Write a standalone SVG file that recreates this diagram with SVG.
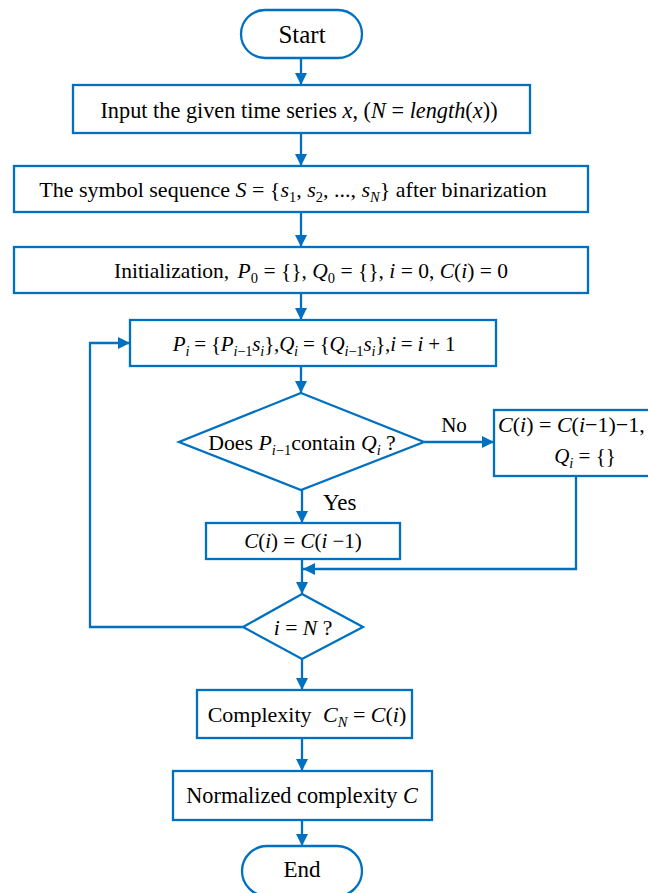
<svg xmlns="http://www.w3.org/2000/svg" width="648" height="893" viewBox="0 0 648 893">
<style>
.box{fill:#fff;stroke:#0070C0;stroke-width:2.3}
.ln{fill:none;stroke:#0070C0;stroke-width:2.3}
text{font-family:"Liberation Serif","Times New Roman",serif;font-size:22px;fill:#000}
.c{text-anchor:middle}
.i{font-style:italic}
.s{font-size:14.5px}
</style>
<defs>
<marker id="ah" markerUnits="userSpaceOnUse" markerWidth="12" markerHeight="12" refX="12" refY="6" orient="auto">
<path d="M0,0 L12,6 L0,12 z" fill="#0070C0"/>
</marker>
</defs>
<rect width="648" height="893" fill="#fff"/>
<g id="connectors">
<line class="ln" x1="301" y1="58" x2="301" y2="85" marker-end="url(#ah)"/>
<line class="ln" x1="301" y1="133" x2="301" y2="166" marker-end="url(#ah)"/>
<line class="ln" x1="301" y1="212" x2="301" y2="247" marker-end="url(#ah)"/>
<line class="ln" x1="301" y1="293" x2="301" y2="320" marker-end="url(#ah)"/>
<line class="ln" x1="301" y1="366" x2="301" y2="393" marker-end="url(#ah)"/>
<line class="ln" x1="424" y1="442" x2="494" y2="442" marker-end="url(#ah)"/>
<line class="ln" x1="302" y1="490" x2="302" y2="523" marker-end="url(#ah)"/>
<line class="ln" x1="302" y1="559" x2="302" y2="594" marker-end="url(#ah)"/>
<polyline class="ln" points="576,476 576,569 303,569" marker-end="url(#ah)"/>
<polyline class="ln" points="243,627 90,627 90,343 130,343" marker-end="url(#ah)"/>
<line class="ln" x1="302" y1="659" x2="302" y2="690" marker-end="url(#ah)"/>
<line class="ln" x1="302" y1="738" x2="302" y2="771" marker-end="url(#ah)"/>
<line class="ln" x1="302" y1="820" x2="302" y2="846" marker-end="url(#ah)"/>
<text x="454" y="432" class="c" style="font-size:21px">No</text>
<text x="323" y="510" style="font-size:23px">Yes</text>
</g>
<g id="start">
<rect class="box" x="241" y="10" width="121" height="48" rx="24"/>
<text x="302" y="43" class="c" style="font-size:25px">Start</text>
</g>
<g id="input">
<rect class="box" x="73" y="85" width="457" height="48"/>
<text x="299" y="118" class="c" style="font-size:22.3px">Input the given time series <tspan class="i">x</tspan>, (<tspan class="i">N</tspan> = <tspan class="i">length</tspan>(<tspan class="i">x</tspan>))</text>
</g>
<g id="symbol">
<rect class="box" x="14" y="166" width="574" height="46"/>
<text x="293" y="197" class="c">The symbol sequence <tspan class="i">S</tspan> = {<tspan class="i">s</tspan><tspan class="s" dy="5">1</tspan><tspan dy="-5">, </tspan><tspan class="i">s</tspan><tspan class="s" dy="5">2</tspan><tspan dy="-5">, ..., </tspan><tspan class="i">s</tspan><tspan class="s i" dy="5">N</tspan><tspan dy="-5">} after binarization</tspan></text>
</g>
<g id="init">
<rect class="box" x="14" y="247" width="574" height="46"/>
<text x="311" y="278" class="c" style="font-size:21.5px">Initialization, <tspan class="i" dx="3">P</tspan><tspan class="s" dy="5">0</tspan><tspan dy="-5"> = {}, </tspan><tspan class="i">Q</tspan><tspan class="s" dy="5">0</tspan><tspan dy="-5"> = {}, </tspan><tspan class="i">i</tspan> = 0, <tspan class="i">C</tspan>(<tspan class="i">i</tspan>) = 0</text>
</g>
<g id="update">
<rect class="box" x="130" y="320" width="366" height="46"/>
<text x="314" y="351" class="c" style="font-size:21px;letter-spacing:-0.2px"><tspan class="i">P</tspan><tspan class="s i" dy="5">i</tspan><tspan dy="-5"> = {</tspan><tspan class="i">P</tspan><tspan class="s" dy="5"><tspan class="i">i</tspan>−1</tspan><tspan class="i" dy="-5">s</tspan><tspan class="s i" dy="5">i</tspan><tspan dy="-5">},</tspan><tspan class="i">Q</tspan><tspan class="s i" dy="5">i</tspan><tspan dy="-5"> = {</tspan><tspan class="i">Q</tspan><tspan class="s" dy="5"><tspan class="i">i</tspan>−1</tspan><tspan class="i" dy="-5">s</tspan><tspan class="s i" dy="5">i</tspan><tspan dy="-5">},</tspan><tspan class="i">i</tspan> = <tspan class="i">i</tspan> + 1</text>
</g>
<g id="decision1">
<polygon class="box" points="301,393 424,442 301,490 179,442"/>
<text x="302" y="450" class="c" style="font-size:21.8px">Does <tspan class="i">P</tspan><tspan class="s" dy="5"><tspan class="i">i</tspan>−1</tspan><tspan dy="-5">contain </tspan><tspan class="i">Q</tspan><tspan class="s i" dy="5">i</tspan><tspan dy="-5"> ?</tspan></text>
</g>
<g id="decrement">
<rect class="box" x="494" y="410" width="170" height="66"/>
<text x="498" y="432"><tspan class="i">C</tspan>(<tspan class="i">i</tspan>) = <tspan class="i">C</tspan>(<tspan class="i">i</tspan>−1)−1,</text>
<text x="585" y="463" class="c" style="font-size:21px"><tspan class="i">Q</tspan><tspan class="s i" dy="5">i</tspan><tspan dy="-5"> = {}</tspan></text>
</g>
<g id="keep">
<rect class="box" x="206" y="523" width="194" height="36"/>
<text x="303" y="548" class="c" style="font-size:21px"><tspan class="i">C</tspan>(<tspan class="i">i</tspan>) = <tspan class="i">C</tspan>(<tspan class="i">i</tspan> −1)</text>
</g>
<g id="decision2">
<polygon class="box" points="302,594 363,627 302,659 243,627"/>
<text x="303" y="635" class="c" style="font-size:21.7px"><tspan class="i">i</tspan> = <tspan class="i">N</tspan> ?</text>
</g>
<g id="complexity">
<rect class="box" x="197" y="690" width="215" height="48"/>
<text x="307" y="722" class="c">Complexity <tspan class="i" dx="6">C</tspan><tspan class="s i" dy="5">N</tspan><tspan dy="-5"> = </tspan><tspan class="i">C</tspan>(<tspan class="i">i</tspan>)</text>
</g>
<g id="normalized">
<rect class="box" x="173" y="771" width="259" height="49"/>
<text x="302" y="803" class="c" style="font-size:22.3px">Normalized complexity <tspan class="i">C</tspan></text>
</g>
<g id="end">
<rect class="box" x="242" y="846" width="120" height="50" rx="25"/>
<text x="302" y="877" class="c" style="font-size:23px">End</text>
</g>
</svg>
